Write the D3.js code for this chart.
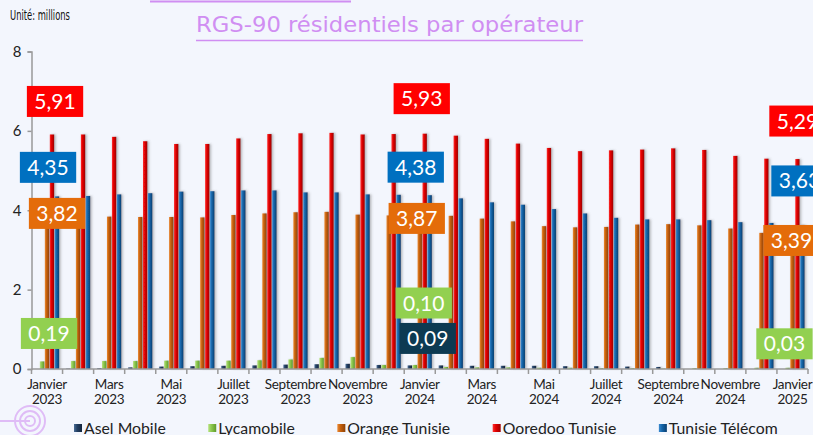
<!DOCTYPE html>
<html>
<head>
<meta charset="utf-8">
<script src="https://cdn.jsdelivr.net/npm/d3@7"></script>
<style>
  body { margin: 0; background: #f3f6fd; }
  svg { display: block; }
</style>
</head>
<body>
<svg width="813" height="435"></svg>
<script>
// data (millions), Jan 2023 -> Jan 2025
const months = ['Janvier 2023', 'Février 2023', 'Mars 2023', 'Avril 2023', 'Mai 2023', 'Juin 2023',
  'Juillet 2023', 'Août 2023', 'Septembre 2023', 'Octobre 2023', 'Novembre 2023', 'Décembre 2023',
  'Janvier 2024', 'Février 2024', 'Mars 2024', 'Avril 2024', 'Mai 2024', 'Juin 2024',
  'Juillet 2024', 'Août 2024', 'Septembre 2024', 'Octobre 2024', 'Novembre 2024', 'Décembre 2024',
  'Janvier 2025']
const aselMobile = [null, 0.01, 0.02, 0.04, 0.06, 0.07, 0.08, 0.09, 0.11, 0.12, 0.13, 0.10,
  0.09, 0.09, 0.08, 0.08, 0.08, 0.07, 0.07, 0.06, 0.05, null, null, null, null]
const lycamobile = [0.19, 0.20, 0.20, 0.20, 0.21, 0.21, 0.21, 0.22, 0.24, 0.28, 0.30, 0.10,
  0.10, 0.05, 0.04, 0.04, 0.03, 0.03, 0.02, 0.02, 0.01, 0.02, 0.02, 0.03, 0.03]
const orangeTunisie = [3.82, 3.83, 3.84, 3.83, 3.83, 3.82, 3.88, 3.92, 3.95, 3.96, 3.89, 3.87,
  3.87, 3.86, 3.79, 3.72, 3.60, 3.57, 3.58, 3.64, 3.65, 3.62, 3.54, 3.43, 3.39]
const ooredooTunisie = [5.91, 5.91, 5.85, 5.74, 5.67, 5.67, 5.81, 5.92, 5.94, 5.95, 5.91, 5.92,
  5.93, 5.88, 5.80, 5.68, 5.57, 5.49, 5.51, 5.53, 5.56, 5.52, 5.37, 5.30, 5.29]
const tunisieTelecom = [4.35, 4.36, 4.40, 4.43, 4.47, 4.48, 4.50, 4.50, 4.45, 4.45, 4.40, 4.39,
  4.38, 4.30, 4.20, 4.14, 4.03, 3.92, 3.81, 3.77, 3.77, 3.75, 3.70, 3.68, 3.63]
const yTicks = [0, 2, 4, 6, 8]

const series = [
  {name: 'Asel Mobile', values: aselMobile, light: '#4a6d96', base: '#233f62', dark: '#14263d', box: '#0d3a52'},
  {name: 'Lycamobile', values: lycamobile, light: '#b6e27e', base: '#8cc84f', dark: '#5f9a2c', box: '#92d050'},
  {name: 'Orange Tunisie', values: orangeTunisie, light: '#ec8a34', base: '#c5600c', dark: '#8e4206', box: '#e46c0a'},
  {name: 'Ooredoo Tunisie', values: ooredooTunisie, light: '#ff3030', base: '#e00000', dark: '#9a0000', box: '#ff0000'},
  {name: 'Tunisie Télécom', values: tunisieTelecom, light: '#3a8ad0', base: '#1565a8', dark: '#0b3f70', box: '#0070c0'}
]

// data labels only on january; nudges are where the labels were dragged to
const labelNudges = [
  {s: 3, m: 0, dx: 8, dy: -33}, {s: 4, m: 0, dx: 1, dy: -29}, {s: 2, m: 0, dx: 10, dy: -4}, {s: 1, m: 0, dx: 2, dy: -28},
  {s: 3, m: 12, dx: 2, dy: -35}, {s: 4, m: 12, dx: -4, dy: -28}, {s: 2, m: 12, dx: -3, dy: 3},
  {s: 1, m: 12, dx: 4, dy: -62}, {s: 0, m: 12, dx: 8, dy: -27},
  {s: 3, m: 24, dx: 5, dy: -38}, {s: 4, m: 24, dx: 7, dy: -44}, {s: 2, m: 24, dx: -1, dy: 6}, {s: 1, m: 24, dx: -8, dy: -24}
]

const svg = d3.select('svg')
const width = 813
const height = 435
const lilac = '#d08ef2'

svg.append('rect').attr('width', width).attr('height', height).attr('fill', '#f3f6fd')

const defs = svg.append('defs')
series.forEach((s, i) => {
  const g = defs.append('linearGradient').attr('id', 'grad' + i)
    .attr('x1', 0).attr('x2', 1).attr('y1', 0).attr('y2', 0)
  g.append('stop').attr('offset', '0%').attr('stop-color', s.light)
  g.append('stop').attr('offset', '40%').attr('stop-color', s.base)
  g.append('stop').attr('offset', '100%').attr('stop-color', s.dark)
})
const shadow = defs.append('filter').attr('id', 'shadow')
  .attr('x', '-50%').attr('y', '-5%').attr('width', '250%').attr('height', '110%')
shadow.append('feDropShadow').attr('dx', 1.5).attr('dy', 0).attr('stdDeviation', 1)
  .attr('flood-color', '#666').attr('flood-opacity', 0.45)

const x0 = d3.scaleBand().domain(months).range([31.5, 808]).paddingInner(0.2).paddingOuter(0.1)
const x1 = d3.scaleBand().domain(series.map(s => s.name)).range([0, x0.bandwidth()])
const y = d3.scaleLinear().domain([0, 8]).range([369, 51.5])
const edges = d3.scaleLinear().domain([0, months.length]).range([31.5, 808])

// title and decorations
svg.append('line').attr('x1', 150).attr('x2', 351).attr('y1', 1.5).attr('y2', 1.5)
  .attr('stroke', lilac).attr('stroke-width', 2)
svg.append('text').attr('x', 10).attr('y', 20)
  .attr('font-family', 'Liberation Sans Narrow, DejaVu Sans Condensed, sans-serif')
  .attr('font-size', 14).attr('fill', '#111')
  .attr('textLength', 60).attr('lengthAdjust', 'spacingAndGlyphs')
  .text('Unité: millions')
svg.append('text').attr('x', 389.5).attr('y', 32).attr('text-anchor', 'middle')
  .attr('font-family', 'DejaVu Sans Condensed, sans-serif')
  .attr('font-size', 21).attr('fill', lilac)
  .attr('textLength', 387).attr('lengthAdjust', 'spacingAndGlyphs')
  .text('RGS-90 résidentiels par opérateur')
svg.append('line').attr('x1', 196).attr('x2', 583).attr('y1', 40.5).attr('y2', 40.5)
  .attr('stroke', lilac).attr('stroke-width', 1.5)

const deco = svg.append('g').attr('fill', 'none').attr('stroke', lilac).attr('opacity', 0.55)
;[5, 10, 15].forEach(r => deco.append('circle').attr('cx', 30).attr('cy', 421).attr('r', r).attr('stroke-width', 2))
deco.append('line').attr('x1', 0).attr('x2', 30).attr('y1', 421).attr('y2', 421).attr('stroke-width', 2)

// y axis
const yAxis = svg.append('g').attr('transform', 'translate(31.5,0)')
  .call(d3.axisLeft(y).tickValues(yTicks).tickSize(4).tickPadding(6).tickFormat(d3.format('d')))
yAxis.select('.domain').attr('stroke', '#999').attr('stroke-width', 1.5)
yAxis.selectAll('.tick line').attr('stroke', '#999').attr('stroke-width', 1.5)
yAxis.selectAll('.tick text').attr('font-family', 'Lato, sans-serif').attr('font-size', 15).attr('fill', '#222')

// bars
const groups = svg.append('g').selectAll('g').data(months).join('g')
  .attr('transform', d => `translate(${x0(d)},0)`)
groups.selectAll('rect')
  .data((m, i) => series.map((s, k) => ({s, k, v: s.values[i]})).filter(d => d.v !== null))
  .join('rect')
  .attr('x', d => x1(d.s.name) + 0.3)
  .attr('width', x1.bandwidth() - 0.6)
  .attr('y', d => y(d.v))
  .attr('height', d => y(0) - y(d.v))
  .attr('fill', d => `url(#grad${d.k})`)
  .attr('filter', 'url(#shadow)')

// x axis
const xAxis = svg.append('g')
xAxis.append('line').attr('x1', 31.5).attr('x2', 808).attr('y1', y(0)).attr('y2', y(0))
  .attr('stroke', '#999').attr('stroke-width', 1.5)
xAxis.selectAll('line.tick').data(d3.range(months.length + 1)).join('line')
  .attr('class', 'tick')
  .attr('x1', d => edges(d)).attr('x2', d => edges(d))
  .attr('y1', y(0)).attr('y2', y(0) + 5)
  .attr('stroke', '#999').attr('stroke-width', 1.5)
const shown = months.filter((m, i) => i % 2 === 0)
;[[0, 389], [1, 404]].forEach(([part, ty]) => {
  xAxis.selectAll('text.l' + part).data(shown).join('text')
    .attr('class', 'l' + part)
    .attr('x', d => x0(d) + x0.bandwidth() / 2)
    .attr('y', ty)
    .attr('text-anchor', 'middle')
    .attr('font-family', 'Lato, sans-serif').attr('font-size', 13.5)
    .attr('letter-spacing', '-0.3px').attr('fill', '#222')
    .text(d => d.split(' ')[part])
})

// data labels
const fmt = v => d3.format('.2f')(v).replace('.', ',')
labelNudges.forEach(n => {
  const s = series[n.s]
  const v = s.values[n.m]
  const cx = x0(months[n.m]) + x0.bandwidth() / 2 + n.dx
  const cy = y(v) + n.dy
  const g = svg.append('g')
  const rect = g.append('rect').attr('fill', s.box)
  const t = g.append('text').attr('x', cx).attr('y', cy + 7.5).attr('text-anchor', 'middle')
    .attr('font-family', 'Lato, sans-serif').attr('font-size', 21).attr('fill', '#fff')
    .text(fmt(v))
  const w = t.node().getComputedTextLength() + 15
  rect.attr('x', cx - w / 2).attr('y', cy - 15.5).attr('width', w).attr('height', 31)
})

// legend
const legend = svg.append('g')
let lx = 74
series.forEach((s, i) => {
  legend.append('rect').attr('x', lx).attr('y', 424).attr('width', 8).attr('height', 8)
    .attr('fill', `url(#grad${i})`)
  const t = legend.append('text').attr('x', lx + 10).attr('y', 434)
    .attr('font-family', 'Lato, sans-serif').attr('font-size', 15.8).attr('fill', '#222')
    .text(s.name)
  lx += 10 + t.node().getComputedTextLength() + 42.5
})
</script>
</body>
</html>
